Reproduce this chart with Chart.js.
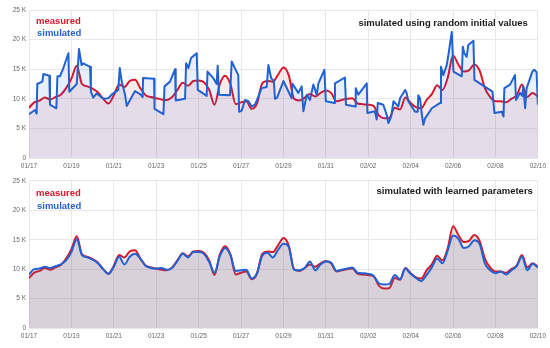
<!DOCTYPE html>
<html><head><meta charset="utf-8">
<script src="https://cdn.jsdelivr.net/npm/chart.js@4/dist/chart.umd.min.js"></script>
<style>
html,body{margin:0;padding:0;background:#fff;}
#wrap{width:550px;height:348px;position:relative;overflow:hidden;}
canvas{position:absolute;left:0;display:block;}
</style></head><body>
<div id="wrap">
<canvas id="topChart" width="550" height="174" style="top:0"></canvas>
<canvas id="botChart" width="550" height="174" style="top:174px"></canvas>
</div>
<script>
// ---- tick labels ----
const xTickLabels = ['01/17','01/19','01/21','01/23','01/25','01/27','01/29','01/31','02/02','02/04','02/06','02/08','02/10'];
const yTickLabels = ['0','5 K','10 K','15 K','20 K','25 K'];

// ---- measured (thousands), every 6 hours from 01/17 00:00 ----
const measured = [
 8.5, 9.4, 9.7, 10.2,
 9.9, 10.3, 10.7, 11.8,
 13.4, 15.6, 12.5, 12.1,
 11.7, 11.1, 10.0, 9.2,
 10.6, 12.4, 12.0, 13.0,
 13.2, 11.8, 10.6, 10.3,
 10.1, 9.9, 9.8, 10.3,
 11.5, 12.7, 12.2, 13.0,
 13.1, 12.8, 11.5, 9.0,
 12.5, 13.9, 12.5, 9.1,
 9.4, 9.6, 8.3, 9.2,
 12.6, 13.0, 12.9, 14.1,
 15.3, 14.0, 10.0, 9.7,
 10.2, 10.8, 10.4, 11.0,
 11.4, 11.0, 9.6, 9.8,
 10.0, 10.1, 9.2, 9.1,
 9.0, 8.8, 7.2, 6.7,
 6.8, 8.5, 8.2, 10.2,
 9.3, 8.6, 8.4, 9.8,
 10.8, 12.3, 11.5, 13.6,
 17.3, 15.8, 14.6, 14.8,
 15.8, 14.8, 11.8, 10.3,
 9.6, 9.6, 9.4, 10.0,
 10.6, 12.4, 10.3, 11.0,
 10.4
];

// ---- simulated with learned parameters (thousands), every 6 hours ----
const simulatedLearned = [
 9.1, 10.0, 10.1, 10.4,
 10.2, 10.5, 10.8, 11.5,
 12.9, 15.1, 12.4, 12.0,
 11.6, 11.0, 10.0, 9.2,
 10.4, 12.1, 10.8, 12.1,
 12.6, 11.8, 10.6, 10.2,
 10.1, 10.2, 9.9, 10.2,
 11.4, 12.6, 12.0, 12.9,
 12.9, 12.6, 11.2, 9.4,
 12.2, 13.6, 12.4, 9.7,
 9.8, 9.9, 8.4, 9.3,
 12.3, 12.8, 12.0, 13.3,
 14.3, 13.8, 9.9, 9.8,
 10.2, 11.3, 9.8, 10.8,
 11.3, 11.1, 9.7, 9.9,
 10.1, 10.3, 9.4, 9.3,
 9.2, 8.9, 7.6, 7.4,
 7.5, 9.0, 8.3, 10.1,
 9.2, 8.5, 8.0, 9.0,
 10.3, 11.8, 11.0, 13.2,
 15.7, 15.2, 13.6, 13.9,
 14.9, 14.3, 11.0, 9.8,
 9.3, 9.6, 9.1, 9.8,
 10.5, 12.1, 9.8, 10.9,
 10.3
];

// ---- simulated using random initial values: days since 01/17 and values (thousands) ----
const simRandomDays = [
 0.00,0.28,0.36,0.39,0.63,0.68,0.96,0.99,1.29,1.34,1.46,1.62,1.86,1.90,2.25,2.36,2.48,2.56,2.88,2.92,
 3.03,3.19,3.51,3.74,3.93,4.21,4.28,4.37,4.53,4.61,5.00,5.24,5.36,5.38,5.90,5.92,6.34,6.39,6.65,6.89,
 6.92,7.36,7.41,7.52,7.64,7.91,7.96,8.38,8.42,8.69,8.85,8.90,8.96,9.48,9.56,9.87,9.91,10.03,10.19,10.35,
 10.50,10.66,10.82,10.97,11.21,11.29,11.42,11.55,11.60,11.70,12.00,12.39,12.42,12.70,12.86,12.94,13.10,13.25,13.41,13.57,
 13.65,13.93,14.00,14.40,14.43,14.90,14.95,15.38,15.41,15.53,15.93,15.96,16.31,16.40,16.45,16.71,16.87,16.95,17.08,17.19,
 17.42,17.50,17.74,17.81,17.89,18.21,18.33,18.36,18.44,18.52,18.60,18.68,19.00,19.39,19.43,19.54,19.70,19.78,19.94,20.02,
 20.41,20.46,20.53,20.64,20.72,20.96,21.01,21.35,21.86,21.95,22.30,22.38,22.42,22.69,22.92,22.97,23.16,23.27,23.31,23.40,
 23.47,23.74,23.83,23.94,24.00
];
const simRandomValues = [
 7.4,8.1,7.5,12.5,12.9,14.2,13.9,9.0,8.4,13.8,13.8,15.2,17.7,11.2,12.5,18.4,15.7,16.0,15.4,11.2,
 10.2,10.9,10.0,10.1,10.8,11.5,15.2,13.0,10.7,8.8,11.3,10.8,10.3,13.5,13.4,8.3,7.4,12.1,12.9,15.0,
 9.7,10.0,16.0,15.2,16.9,17.7,11.5,10.5,14.6,13.5,12.5,15.6,10.7,10.6,16.3,14.0,7.8,8.0,9.8,9.6,
 8.7,9.0,10.4,11.8,12.0,15.7,13.5,13.0,10.0,10.2,13.0,10.1,12.6,11.0,12.1,7.9,10.7,9.8,12.4,10.7,
 12.6,14.9,9.6,9.3,12.6,13.6,9.0,8.7,11.8,10.7,12.6,7.6,7.9,6.5,9.3,9.0,7.3,5.9,7.0,9.6,
 8.7,10.1,11.5,11.0,9.6,7.8,7.8,10.6,10.1,7.6,5.6,6.7,8.4,9.3,15.4,14.0,15.7,17.4,21.3,14.6,
 13.8,18.8,17.7,17.1,19.1,19.8,13.2,12.4,11.2,7.6,7.8,7.0,11.8,12.4,14.0,9.8,11.0,10.5,12.1,8.4,
 11.8,14.6,14.9,14.5,9.0
];

const RED = '#d6182c';
const BLUE = '#2062d2';
const TICK_FONT = {family: '"Liberation Sans", Arial, sans-serif', size: 6.5};
const LABEL_FONT = 'bold 9.5px "Liberation Sans", Arial, sans-serif';

const regular = arr => arr.map((v, i) => ({x: i / 4, y: v}));
const paired = (xs, ys) => xs.map((x, i) => ({x: x, y: ys[i]}));

function textPlugin(cfg) {
  return {
    id: 'panelText',
    afterDraw(chart) {
      const {ctx, chartArea} = chart;
      ctx.save();
      ctx.font = LABEL_FONT;
      ctx.textBaseline = 'alphabetic';
      ctx.textAlign = 'left';
      ctx.fillStyle = RED;
      ctx.fillText('measured', chartArea.left + 7, chartArea.top + cfg.l1);
      ctx.fillStyle = BLUE;
      ctx.fillText('simulated', chartArea.left + 8, chartArea.top + cfg.l2);
      ctx.textAlign = 'right';
      ctx.fillStyle = '#1a1a1a';
      ctx.fillText(cfg.title, chartArea.right - cfg.tr, chartArea.top + cfg.ty);
      ctx.restore();
    }
  };
}

function options(xHeight, padTop) {
  return {
    responsive: false,
    animation: false,
    devicePixelRatio: 1,
    layout: {padding: {top: padTop, right: 11, left: 0, bottom: 0}},
    plugins: {legend: {display: false}, tooltip: {enabled: false}},
    elements: {point: {radius: 0}, line: {tension: 0, borderWidth: 2, borderJoinStyle: 'round'}},
    scales: {
      x: {
        type: 'linear', min: 0, max: 24,
        afterBuildTicks(s) { s.ticks = xTickLabels.map((_, i) => ({value: i * 2})); },
        ticks: {autoSkip: false, maxRotation: 0, padding: 4, color: '#666', font: TICK_FONT,
                callback: v => xTickLabels[Math.round(v / 2)]},
        grid: {color: '#e8e8e8', drawTicks: false, lineWidth: 1},
        border: {display: false},
        afterFit(s) { s.height = xHeight; }
      },
      y: {
        min: 0, max: 25,
        afterBuildTicks(s) { s.ticks = yTickLabels.map((_, i) => ({value: i * 5})); },
        ticks: {padding: 3, color: '#666', font: TICK_FONT,
                callback: v => yTickLabels[Math.round(v / 5)]},
        grid: {color: '#e8e8e8', drawTicks: false, lineWidth: 1},
        border: {display: false},
        afterFit(s) { s.width = 29; }
      }
    }
  };
}

new Chart(document.getElementById('topChart'), {
  type: 'line',
  data: {
    datasets: [
      {label: 'simulated', data: paired(simRandomDays, simRandomValues), borderColor: BLUE,
       backgroundColor: 'rgba(32,98,210,0.10)', fill: 'origin'},
      {label: 'measured', data: regular(measured), borderColor: RED,
       backgroundColor: 'rgba(214,24,44,0.09)', fill: 'origin', cubicInterpolationMode: 'monotone'}
    ]
  },
  options: options(16, 10),
  plugins: [textPlugin({l1: 14, l2: 25.5, title: 'simulated using random initial values', tr: 10, ty: 15.5})]
});

new Chart(document.getElementById('botChart'), {
  type: 'line',
  data: {
    datasets: [
      {label: 'simulated', data: regular(simulatedLearned), borderColor: BLUE,
       backgroundColor: 'rgba(100,100,140,0.17)', fill: 'origin', cubicInterpolationMode: 'monotone'},
      {label: 'measured', data: regular(measured), borderColor: RED,
       backgroundColor: 'rgba(160,110,120,0.17)', fill: 'origin', cubicInterpolationMode: 'monotone'}
    ]
  },
  options: options(20, 5),
  plugins: [textPlugin({l1: 15.5, l2: 28, title: 'simulated with learned parameters', tr: 5, ty: 13.5})]
});
</script>
</body></html>
